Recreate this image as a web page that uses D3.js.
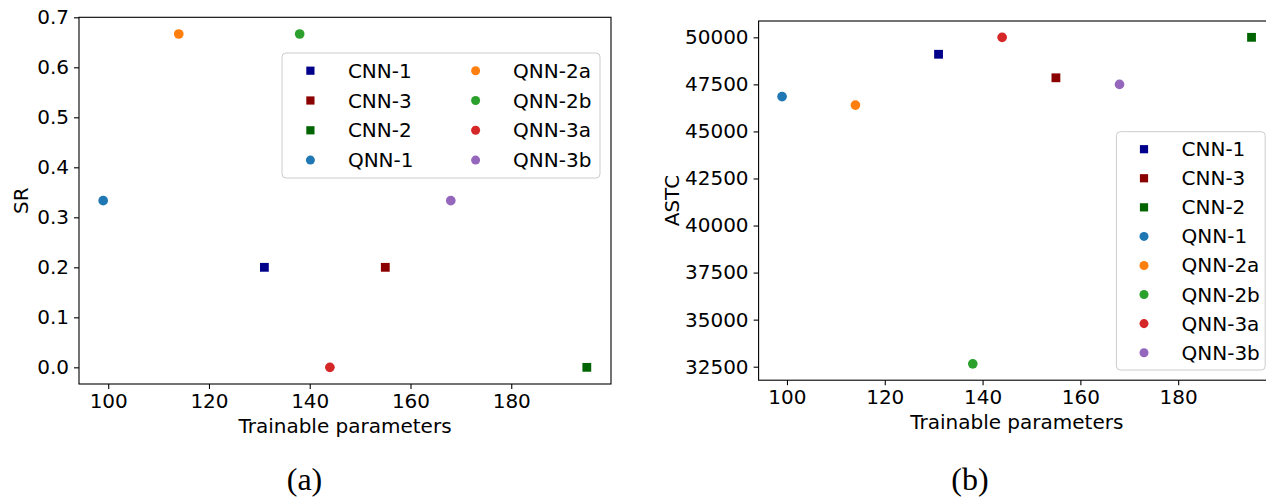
<!DOCTYPE html>
<html><head><meta charset="utf-8">
<script src="https://cdn.jsdelivr.net/npm/d3@7"></script>
<style>
body{margin:0;background:#fff;}
svg{display:block;}
text{font-family:"DejaVu Sans",sans-serif;}
text.cap{font-family:"Liberation Serif",serif;}
</style>
</head><body>
<svg id="chart" width="1266" height="497"></svg>
<script>
// ---- data ----
const models = ["CNN-1","CNN-3","CNN-2","QNN-1","QNN-2a","QNN-2b","QNN-3a","QNN-3b"];
const markerShapes = ["square","square","square","circle","circle","circle","circle","circle"];
const colors = ["#00008b","#8b0000","#006400","#1f77b4","#ff7f0e","#2ca02c","#d62728","#9467bd"];
const params = [131,155,195,99,114,138,144,168];
const srValues = [0.2,0.2,0.0,1/3,2/3,2/3,0.0,1/3];
const astcValues = [49100,47850,50000,46850,46400,32650,50000,47500];
const xTickValues = [100,120,140,160,180];
const srTickValues = [0,0.1,0.2,0.3,0.4,0.5,0.6,0.7];
const astcTickValues = [32500,35000,37500,40000,42500,45000,47500,50000];
const xLabel = "Trainable parameters";
const yLabels = ["SR","ASTC"];
const captions = ["(a)","(b)"];

const svg = d3.select("#chart");
const FS = 20;

function padDomain(vals){
  const lo = d3.min(vals), hi = d3.max(vals), r = hi - lo;
  return [lo - 0.05*r, hi + 0.05*r];
}

function drawMarker(g, shape, x, y, color, size){
  if(shape === "square"){
    g.append("rect").attr("x", x - size/2).attr("y", y - size/2)
      .attr("width", size).attr("height", size).attr("fill", color);
  } else {
    g.append("circle").attr("cx", x).attr("cy", y).attr("r", size*0.55).attr("fill", color);
  }
}

function panel(cfg){
  const g = svg.append("g");
  const x = d3.scaleLinear().domain(padDomain(params)).range([cfg.left, cfg.right]);
  const y = d3.scaleLinear().domain(cfg.yDomain).range([cfg.bottom, cfg.top]);

  const pts = g.append("g");
  models.forEach((m,i)=>{
    drawMarker(pts, markerShapes[i], x(params[i]), y(cfg.values[i]), colors[i], 8.8);
  });

  const xa = g.append("g").attr("transform", `translate(0,${cfg.bottom})`)
    .call(d3.axisBottom(x).tickValues(xTickValues).tickSize(5).tickPadding(5).tickSizeOuter(0));
  const ya = g.append("g").attr("transform", `translate(${cfg.left},0)`)
    .call(d3.axisLeft(y).tickValues(cfg.ticks).tickFormat(cfg.fmt).tickSize(5).tickPadding(5).tickSizeOuter(0));
  [xa, ya].forEach(a=>{
    a.select(".domain").remove();
    a.selectAll("line").attr("stroke","#000").attr("stroke-width",1.1);
    a.selectAll("text").attr("font-size",FS).attr("fill","#000").attr("font-family",null);
  });

  g.append("rect").attr("x", cfg.left).attr("y", cfg.top)
    .attr("width", cfg.right - cfg.left).attr("height", cfg.bottom - cfg.top)
    .attr("fill","none").attr("stroke","#000").attr("stroke-width",1.1);

  g.append("text").attr("x", (cfg.left + cfg.right)/2).attr("y", cfg.bottom + 49)
    .attr("text-anchor","middle").attr("font-size",FS).text(xLabel);
  g.append("text").attr("transform", `translate(${cfg.ylabX},${(cfg.top+cfg.bottom)/2}) rotate(-90)`)
    .attr("text-anchor","middle").attr("font-size",FS).text(cfg.ylabel);
  g.append("text").attr("class","cap").attr("x", cfg.capX).attr("y", 490).attr("text-anchor","middle")
    .attr("font-size",32).text(cfg.caption);

  const L = cfg.legend;
  const lg = g.append("g");
  lg.append("rect").attr("x", L.x0).attr("y", L.y0).attr("width", L.x1 - L.x0).attr("height", L.y1 - L.y0)
    .attr("rx",4).attr("fill","#fff").attr("fill-opacity",0.8).attr("stroke","#cccccc").attr("stroke-width",1);
  models.forEach((m,i)=>{
    const col = Math.floor(i / L.rows), row = i % L.rows;
    const mx = L.markerX[col], my = L.rowY0 + row*L.rowStep;
    drawMarker(lg, markerShapes[i], mx, my, colors[i], 8.2);
    lg.append("text").attr("x", mx + 37.5).attr("y", my + 7).attr("font-size",FS).text(m);
  });
}

panel({
  left:79, right:611, top:17.3, bottom:384,
  values: srValues, yDomain:[-0.7/21, 0.7], ticks: srTickValues, fmt: d3.format(".1f"),
  ylabel: yLabels[0], ylabX: 28, capX: 304.5, caption: captions[0],
  legend:{x0:282, x1:600, y0:53, y1:178, rows:4, markerX:[310.4, 475.6], rowY0:70.7, rowStep:29.8}
});

panel({
  left:758.6, right:1275, top:21, bottom:380.2,
  values: astcValues, yDomain: padDomain(astcValues), ticks: astcTickValues, fmt: d3.format("d"),
  ylabel: yLabels[1], ylabX: 679, capX: 970, caption: captions[1],
  legend:{x0:1116.4, x1:1265.2, y0:131.7, y1:370, rows:8, markerX:[1144], rowY0:149.2, rowStep:29.07}
});
</script>
</body></html>
